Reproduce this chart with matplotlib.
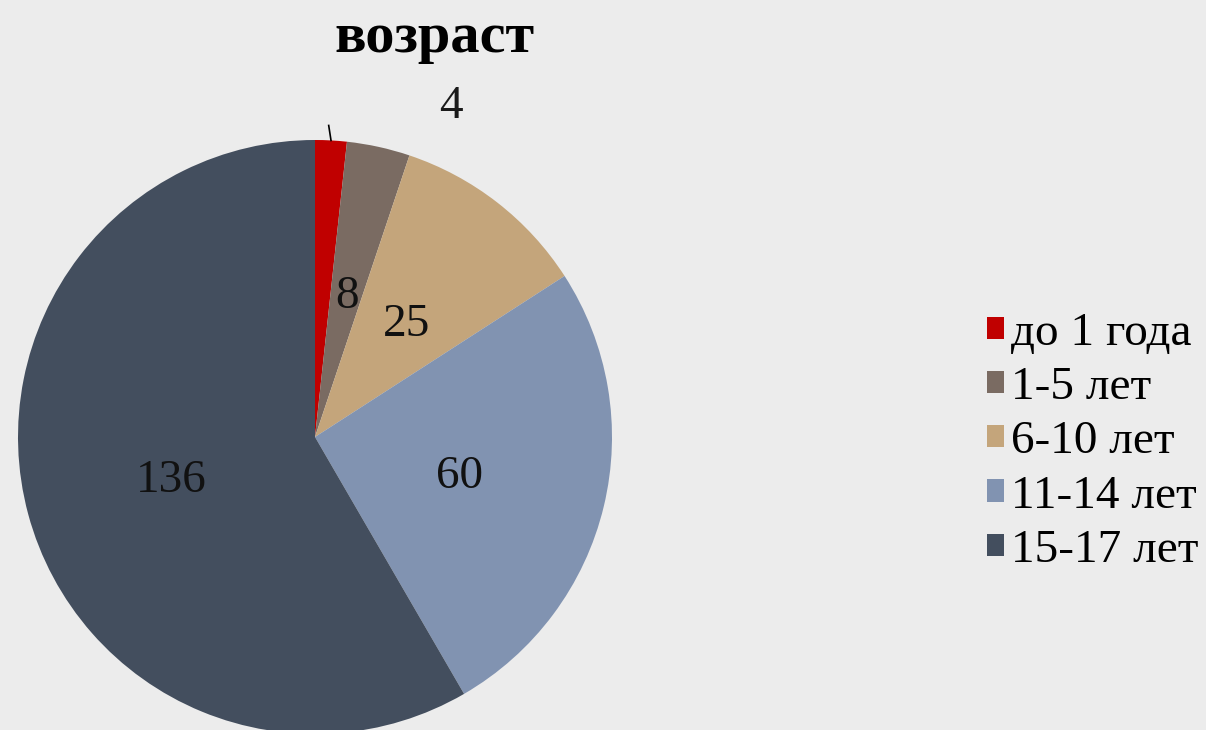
import numpy as np
import matplotlib
matplotlib.use("Agg")
import matplotlib.pyplot as plt
from matplotlib.patches import Patch

# data
categories = ["до 1 года", "1-5 лет", "6-10 лет", "11-14 лет", "15-17 лет"]
counts = [4, 8, 25, 60, 136]
colors = ["#c00000", "#7a6b62", "#c4a57b", "#8193b1", "#434e5e"]

plt.rcParams['font.family'] = ['Liberation Serif', 'DejaVu Serif']

fig = plt.figure(figsize=(12.06, 7.30), dpi=100)
fig.patch.set_facecolor("#ececec")

# pie axes, centre ~ (315, 437) px, radius ~297 px
cx, cy, r = 315, 437, 297
ax = fig.add_axes([(cx - r) / 1206, (730 - cy - r) / 730, 2 * r / 1206, 2 * r / 730])
ax.set_facecolor("none")

wedges, _ = ax.pie(counts, colors=colors, startangle=90, counterclock=False,
                   radius=1.0, wedgeprops=dict(linewidth=0))
ax.set_xlim(-1, 1)
ax.set_ylim(-1, 1)
ax.set_aspect("equal")
ax.axis("off")

# value labels inside wedges (first one sits outside with a short leader)
for i, w in enumerate(wedges):
    mid = np.deg2rad((w.theta1 + w.theta2) / 2)
    if i == 0:
        ax.plot([1.0 * np.cos(mid), 1.05 * np.cos(mid + 0.01)],
                [1.0 * np.sin(mid), 1.05 * np.sin(mid + 0.01)],
                color="black", lw=1.2, clip_on=False)
        lab = mid - np.deg2rad(19)
        ax.text(1.22 * np.cos(lab), 1.22 * np.sin(lab), str(counts[i]),
                ha="center", va="center_baseline", fontsize=34, color="#1a1a1a",
                clip_on=False)
    else:
        d = 0.5
        ax.text(d * np.cos(mid), d * np.sin(mid), str(counts[i]),
                ha="center", va="center_baseline", fontsize=34, color="#111111")

fig.text(435 / 1206, 1 - 38 / 730, "возраст", ha="center", va="center",
         fontsize=42, fontweight="bold")

handles = [Patch(facecolor=c, edgecolor="none") for c in colors]
fig.legend(handles, categories, loc="center left", bbox_to_anchor=(987 / 1206, 1 - 442 / 730),
           frameon=False, fontsize=34, handlelength=0.35, handleheight=0.35,
           handletextpad=0.15, labelspacing=0.25, borderpad=0, borderaxespad=0)

fig.savefig("out.png", dpi=100, facecolor=fig.get_facecolor())
